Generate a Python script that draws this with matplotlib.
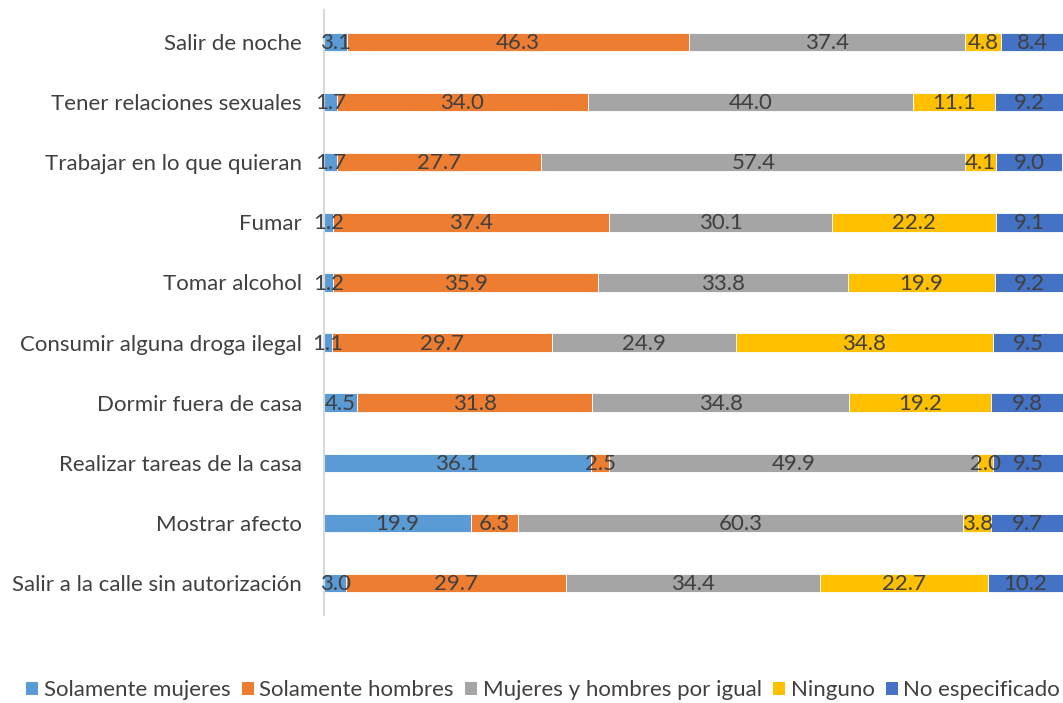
import matplotlib.pyplot as plt
import numpy as np
from matplotlib.patches import Patch

categories = ['Salir de noche',
              'Tener relaciones sexuales',
              'Trabajar en lo que quieran',
              'Fumar',
              'Tomar alcohol',
              'Consumir alguna droga ilegal',
              'Dormir fuera de casa',
              'Realizar tareas de la casa',
              'Mostrar afecto',
              'Salir a la calle sin autorización']

series_names = ['Solamente mujeres', 'Solamente hombres',
                'Mujeres y hombres por igual', 'Ninguno', 'No especificado']

solo_mujeres = [3.1, 1.7, 1.7, 1.2, 1.2, 1.1, 4.5, 36.1, 19.9, 3.0]
solo_hombres = [46.3, 34.0, 27.7, 37.4, 35.9, 29.7, 31.8, 2.5, 6.3, 29.7]
por_igual = [37.4, 44.0, 57.4, 30.1, 33.8, 24.9, 34.8, 49.9, 60.3, 34.4]
ninguno = [4.8, 11.1, 4.1, 22.2, 19.9, 34.8, 19.2, 2.0, 3.8, 22.7]
no_espec = [8.4, 9.2, 9.0, 9.1, 9.2, 9.5, 9.8, 9.5, 9.7, 10.2]

colors = ['#5B9BD5', '#ED7D31', '#A5A5A5', '#FFC000', '#4472C4']
txt = '#404040'

plt.rcParams['font.family'] = ['Lato', 'DejaVu Sans']

fig = plt.figure(figsize=(10.63, 7.03), dpi=100)
ax = fig.add_axes([0.3048, 0.1252, 0.6952, 0.8606])

data = [solo_mujeres, solo_hombres, por_igual, ninguno, no_espec]
y = np.arange(len(categories))
left = np.zeros(len(categories))
for vals, col in zip(data, colors):
    vals = np.array(vals)
    ax.barh(y, vals, left=left, height=0.31, color=col,
            edgecolor='white', linewidth=0.6)
    for yi, l, v in zip(y, left, vals):
        ax.text(l + v / 2, yi + 0.02, '%.1f' % v, ha='center', va='center',
                fontsize=16, color=txt)
    left += vals

ax.set_ylim(len(categories) - 0.47, -0.53)
ax.set_xlim(0, 100)
ax.set_yticks(y)
ax.set_yticklabels(categories, fontsize=16, color=txt)
ax.tick_params(axis='y', length=0, pad=16)
ax.set_xticks([])
for s in ['top', 'right', 'bottom']:
    ax.spines[s].set_visible(False)
ax.spines['left'].set_color('#D9D9D9')
ax.spines['left'].set_linewidth(1.5)

handles = [Patch(facecolor=c, edgecolor='none') for c in colors]
leg = fig.legend(handles, series_names, loc='center', ncol=5,
                 bbox_to_anchor=(0.511, 0.018), frameon=False, fontsize=16,
                 handlelength=0.55, handleheight=0.55, handletextpad=0.25,
                 columnspacing=0.5, borderaxespad=0)
for t in leg.get_texts():
    t.set_color(txt)

fig.savefig('out.png', dpi=100)
